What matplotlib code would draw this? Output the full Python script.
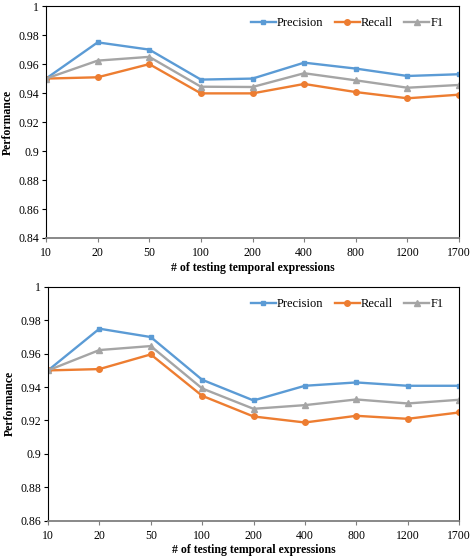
import matplotlib
matplotlib.use("Agg")
import matplotlib.pyplot as plt
from matplotlib.ticker import FuncFormatter

plt.rcParams['font.family'] = ['Liberation Serif', 'DejaVu Serif']

sizes = ['10', '20', '50', '100', '200', '400', '800', '1200', '1700']

# top panel
precision_1 = [0.950, 0.975, 0.970, 0.9493, 0.950, 0.961, 0.9569, 0.9518, 0.9530]
recall_1 = [0.950, 0.9509, 0.960, 0.9398, 0.9398, 0.9463, 0.9407, 0.9364, 0.9389]
f1_1 = [0.950, 0.9624, 0.9650, 0.9444, 0.9442, 0.9537, 0.9488, 0.9437, 0.9456]

# bottom panel
precision_2 = [0.950, 0.975, 0.970, 0.9444, 0.932, 0.9408, 0.9428, 0.9408, 0.9408]
recall_2 = [0.950, 0.9508, 0.9596, 0.9348, 0.9224, 0.9188, 0.9228, 0.921, 0.9248]
f1_2 = [0.950, 0.9622, 0.9646, 0.9392, 0.927, 0.9292, 0.9326, 0.9302, 0.9324]

blue = '#5B9BD5'
orange = '#ED7D31'
gray = '#A5A5A5'

fig = plt.figure(figsize=(4.72, 5.58), dpi=100)
ax1 = fig.add_axes([0.0975, 0.5735, 0.875, 0.4155])
ax2 = fig.add_axes([0.1017, 0.067, 0.8708, 0.4187])


def draw(ax, p, r, f, ymin):
    x = range(len(sizes))
    ax.plot(x, p, color=blue, marker='s', markersize=3.5, lw=1.7, label='Precision')
    ax.plot(x, r, color=orange, marker='o', markersize=4, lw=1.7, label='Recall')
    ax.plot(x, f, color=gray, marker='^', markersize=4, lw=1.7, label='F1')
    ax.set_xlim(0, len(sizes) - 1)
    ax.set_ylim(ymin, 1.0)
    ax.set_xticks(list(x))
    ax.set_xticklabels(sizes)
    ax.set_yticks([round(ymin + 0.02 * i, 2) for i in range(int(round((1 - ymin) / 0.02)) + 1)])
    ax.yaxis.set_major_formatter(FuncFormatter(lambda v, pos: ('%.2f' % v).rstrip('0').rstrip('.')))
    ax.tick_params(axis='both', labelsize=8.5, direction='out', length=3, width=0.8, pad=2)
    ax.tick_params(axis='x', color='#7f7f7f', pad=3.5)
    for s in ['top', 'right', 'left']:
        ax.spines[s].set_color('black')
        ax.spines[s].set_linewidth(0.8)
    ax.spines['bottom'].set_color('#7f7f7f')
    ax.spines['bottom'].set_linewidth(1.3)
    ax.set_xlabel('# of testing temporal expressions', fontsize=8.5, fontweight='bold', labelpad=2)
    ax.set_ylabel('Performance', fontsize=8.5, fontweight='bold', labelpad=3)
    ax.legend(loc='upper right', ncol=3, frameon=False, fontsize=9, handlelength=2.0,
              handletextpad=0.1, columnspacing=0.9, bbox_to_anchor=(0.99, 1.0))


draw(ax1, precision_1, recall_1, f1_1, 0.84)
draw(ax2, precision_2, recall_2, f1_2, 0.86)

fig.savefig('out.png', dpi=100)
